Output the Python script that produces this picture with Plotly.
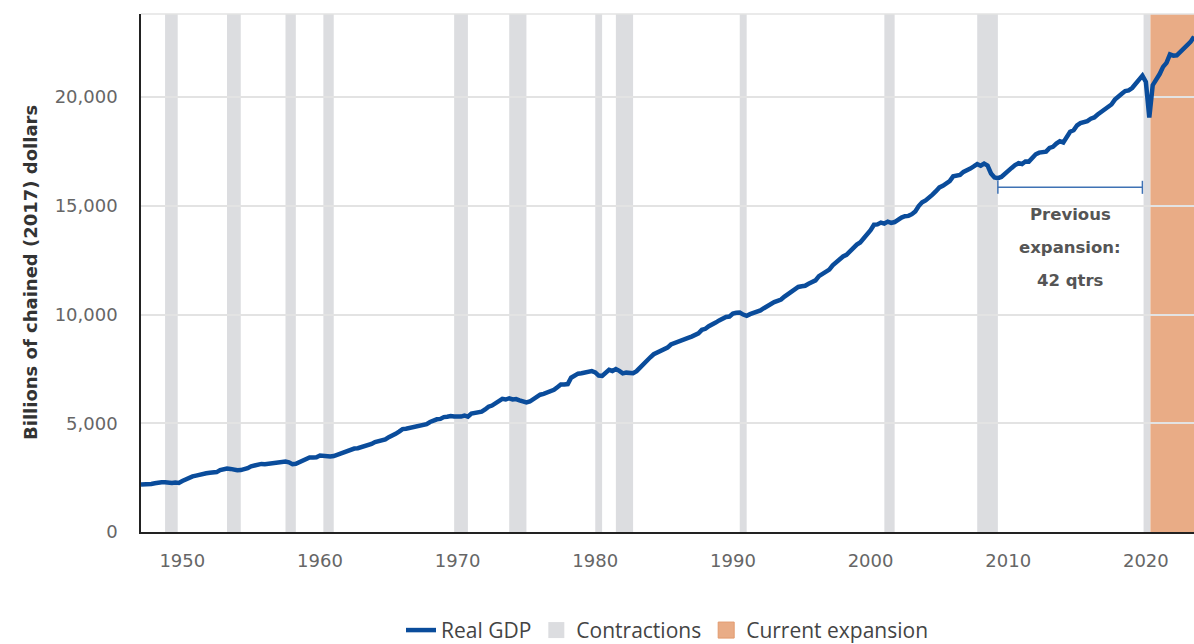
import pandas as pd
import plotly.graph_objects as go

# ---- data ----
start_quarter = "1947-01-01"
real_gdp = [
    2183, 2177, 2172, 2206,   2240, 2277, 2290, 2292,   2261, 2253, 2276, 2257,
    2346, 2418, 2511, 2559,   2594, 2639, 2693, 2699,   2728, 2734, 2754, 2844,
    2897, 2919, 2902, 2853,   2845, 2847, 2880, 2937,   3021, 3070, 3111, 3130,
    3118, 3144, 3141, 3193,   3213, 3206, 3238, 3203,   3121, 3141, 3214, 3289,
    3352, 3428, 3430, 3440,   3517, 3498, 3515, 3470,   3494, 3553, 3621, 3692,
    3758, 3792, 3839, 3851,   3893, 3937, 4024, 4050,   4136, 4181, 4246, 4259,
    4362, 4417, 4515, 4619,   4732, 4748, 4788, 4828,   4870, 4873, 4919, 4956,
    5058, 5142, 5182, 5202,   5284, 5300, 5335, 5309,   5301, 5308, 5357, 5300,
    5444, 5473, 5518, 5531,   5633, 5760, 5815, 5912,   6059, 6125, 6092, 6150,
    6097, 6112, 6054, 6030,   5957, 6000, 6104, 6187,   6314, 6352, 6399, 6458,
    6538, 6657, 6781, 6781,   6802, 7095, 7183, 7281,   7301, 7315, 7370, 7396,
    7340, 7189, 7180, 7314,   7459, 7404, 7493, 7410,   7295, 7328, 7300, 7304,
    7399, 7568, 7718, 7870,   8035, 8174, 8256, 8331,   8408, 8480, 8621, 8692,
    8773, 8806, 8881, 8930,   8987, 9072, 9138, 9296,   9344, 9462, 9521, 9631,
    9730, 9809, 9889, 9910,   10047, 10083, 10091, 9998, 9939, 10018, 10070, 10090,
    10189, 10291, 10393, 10508, 10573, 10632, 10690, 10827, 10935, 11078, 11150, 11268,
    11299, 11324, 11416, 11494, 11570, 11767, 11864, 12000, 12067, 12267, 12421, 12531,
    12668, 12744, 12903, 13098, 13216, 13315, 13495, 13733, 13878, 14130, 14145, 14229,
    14183, 14271, 14214, 14253, 14372, 14460, 14519, 14537, 14614, 14743, 14988, 15162,
    15249, 15367, 15512, 15671, 15844, 15922, 16047, 16136, 16353, 16396, 16420, 16561,
    16611, 16713, 16809, 16915, 16843, 16943, 16854, 16485, 16299, 16269, 16327, 16483,
    16582, 16743, 16873, 16961, 16920, 17035, 17032, 17222, 17368, 17445, 17470, 17490,
    17663, 17710, 17861, 17972, 17913, 18166, 18406, 18473, 18693, 18804, 18856, 18892,
    19002, 19062, 19197, 19304, 19398, 19506, 19661, 19883, 20044, 20151, 20276, 20304,
    20416, 20585, 20818, 20985, 20693, 19057, 20549, 20772, 21058, 21389, 21571, 21960,
    21904, 21919, 22067, 22249, 22403, 22539, 22780,
]
quarters = pd.date_range(start_quarter, periods=len(real_gdp), freq="QS").strftime("%Y-%m-%d").tolist()

contraction_starts = ["1948-10-01", "1953-04-01", "1957-07-01", "1960-04-01", "1969-10-01",
                      "1973-10-01", "1980-01-01", "1981-07-01", "1990-07-01", "2001-01-01",
                      "2007-10-01", "2019-11-01"]
contraction_ends = ["1949-09-01", "1954-04-01", "1958-04-01", "1961-01-01", "1970-10-01",
                    "1975-01-01", "1980-07-01", "1982-10-01", "1991-01-01", "2001-10-01",
                    "2009-04-01", "2020-05-01"]
current_expansion = ["2020-05-01", "2023-07-01"]
previous_expansion = ["2009-04-01", "2019-10-01"]
previous_expansion_label = ["Previous", "expansion:", "42 qtrs"]
bracket_level = 15850

year_ticks = [str(y) for y in range(1950, 2030, 10)]
y_ticks = [0, 5000, 10000, 15000, 20000]
x_range = ["1947-01-01", "2023-07-01"]
y_range = [0, 23820]

# ---- colours ----
BLUE = "#0a4c9b"
GRAY = "#dcdde0"
ORANGE = "#e9ac86"

fig = go.Figure()

fig.add_trace(go.Scatter(x=quarters, y=real_gdp, mode="lines", name="Real GDP",
                         line=dict(color=BLUE, width=4.5)))
fig.add_trace(go.Scatter(x=[None], y=[None], mode="markers", name="Contractions",
                         marker=dict(symbol="square", size=26, color=GRAY)))
fig.add_trace(go.Scatter(x=[None], y=[None], mode="markers", name="Current expansion",
                         marker=dict(symbol="square", size=26, color=ORANGE,
                                     line=dict(color="#e29a6e", width=1))))

shapes = []
for s, e in zip(contraction_starts, contraction_ends):
    shapes.append(dict(type="rect", xref="x", yref="paper", x0=s, x1=e, y0=0, y1=1,
                       fillcolor=GRAY, line=dict(width=0), layer="below"))
shapes.append(dict(type="rect", xref="x", yref="paper", x0=current_expansion[0],
                   x1=current_expansion[1], y0=0, y1=1,
                   fillcolor=ORANGE, line=dict(width=0), layer="below"))
# top border
shapes.append(dict(type="line", xref="paper", yref="paper", x0=0, x1=1, y0=1, y1=1,
                   line=dict(color="#e3e3e3", width=1.5)))
# previous-expansion bracket
shapes.append(dict(type="line", xref="x", yref="y", x0=previous_expansion[0],
                   x1=previous_expansion[1], y0=bracket_level, y1=bracket_level,
                   line=dict(color="#3f72b4", width=1.5)))
for xe in previous_expansion:
    shapes.append(dict(type="line", xref="x", yref="y", x0=xe, x1=xe,
                       y0=bracket_level - 300, y1=bracket_level + 300,
                       line=dict(color="#3f72b4", width=1.5)))

annotations = []
mid = pd.Timestamp(previous_expansion[0]) + (pd.Timestamp(previous_expansion[1]) - pd.Timestamp(previous_expansion[0])) / 2
for i, txt in enumerate(previous_expansion_label):
    annotations.append(dict(x=mid.strftime("%Y-%m-%d"), y=bracket_level, xref="x", yref="y",
                            text="<b>%s</b>" % txt, showarrow=False, yanchor="middle",
                            yshift=-27 - 33 * i,
                            font=dict(family="DejaVu Sans", size=16.5, color="#555555")))
annotations.append(dict(xref="paper", yref="paper", x=(30 - 141) / 1053, y=0.5,
                        text="<b>Billions of chained (2017) dollars</b>", textangle=-90,
                        showarrow=False, xanchor="center", yanchor="middle",
                        font=dict(family="DejaVu Sans", size=18, color="#333333")))

fig.update_layout(
    width=1194, height=644,
    margin=dict(l=141, r=0, t=14, b=112, autoexpand=False),
    paper_bgcolor="white", plot_bgcolor="white",
    shapes=shapes, annotations=annotations,
    showlegend=True,
    legend=dict(orientation="h", x=0.5, xanchor="center", y=-0.19, yanchor="middle",
                font=dict(family="Open Sans", size=21, color="#444444"),
                itemsizing="trace", bgcolor="rgba(0,0,0,0)"),
    xaxis=dict(type="date", range=x_range,
               tickvals=[y + "-01-01" for y in year_ticks], ticktext=year_ticks,
               showgrid=False, zeroline=False,
               showline=True, linecolor="#222222", linewidth=1.5,
               ticks="outside", ticklen=12, tickcolor="rgba(0,0,0,0)",
               tickfont=dict(family="DejaVu Sans", size=18, color="#666666")),
    yaxis=dict(range=y_range, tickvals=y_ticks, tickformat=",",
               showgrid=True, gridcolor="#e3e3e3", gridwidth=1.5, zeroline=False,
               showline=True, linecolor="#222222", linewidth=1.5,
               ticks="outside", ticklen=18, tickcolor="rgba(0,0,0,0)",
               tickfont=dict(family="DejaVu Sans", size=18, color="#666666")),
)

fig.write_html("out.html", config={"displayModeBar": False},
               post_script="document.body.style.margin='0px';document.body.style.overflow='hidden';")
